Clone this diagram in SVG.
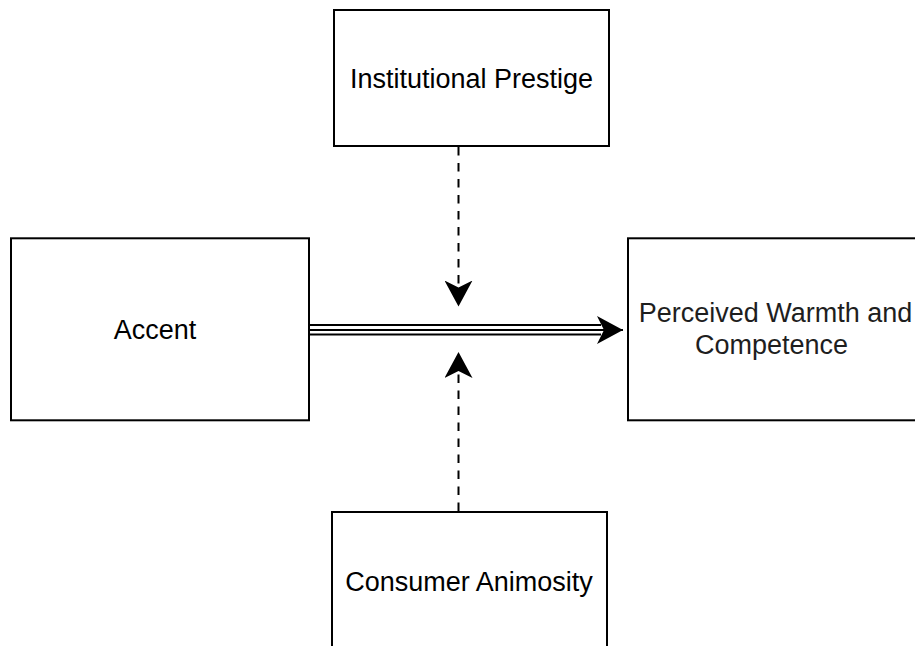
<svg xmlns="http://www.w3.org/2000/svg" width="915" height="646" viewBox="0 0 915 646">
  <style>
    .box { fill: #ffffff; stroke: #000000; stroke-width: 2; }
    .label { font-family: "Liberation Sans", Arial, Helvetica, sans-serif; font-size: 27px; fill: #000000; text-anchor: middle; }
    .dash { fill: none; stroke: #000000; stroke-width: 2; stroke-dasharray: 8.5 7.5; }
    .rail { fill: none; stroke: #000000; stroke-width: 2; }
  </style>
  <defs>
    <marker id="arrow" markerUnits="userSpaceOnUse" viewBox="0 0 26 28" markerWidth="26" markerHeight="28" refX="26" refY="14" orient="auto">
      <path d="M0,0 L26,14 L0,28 L7,14 Z" fill="#000000"/>
    </marker>
  </defs>
  <rect width="915" height="646" fill="#ffffff"/>

  <g id="connectors">
    <path class="dash" d="M458.5,147 L458.5,306.5" marker-end="url(#arrow)"/>
    <path class="dash" d="M458.5,511 L458.5,352" marker-end="url(#arrow)"/>
    <path class="rail" d="M310,325 L601,325"/>
    <path class="rail" d="M310,334.5 L601,334.5"/>
    <path class="rail" d="M310,330 L623,330" marker-end="url(#arrow)"/>
  </g>

  <g id="node-institutional-prestige">
    <rect class="box" x="334" y="10" width="275" height="136"/>
    <text class="label" x="471.5" y="88">Institutional Prestige</text>
  </g>

  <g id="node-accent">
    <rect class="box" x="11" y="238.3" width="298" height="182"/>
    <text class="label" x="155" y="338.5">Accent</text>
  </g>

  <g id="node-perceived">
    <rect class="box" x="628" y="238.3" width="298" height="182"/>
    <text class="label" x="775.5" y="321.7" style="fill:#1e1e1e">Perceived Warmth and</text>
    <text class="label" x="771.5" y="354" style="fill:#1e1e1e">Competence</text>
  </g>

  <g id="node-consumer-animosity">
    <rect class="box" x="332" y="512" width="275" height="140"/>
    <text class="label" x="469" y="591">Consumer Animosity</text>
  </g>
</svg>
